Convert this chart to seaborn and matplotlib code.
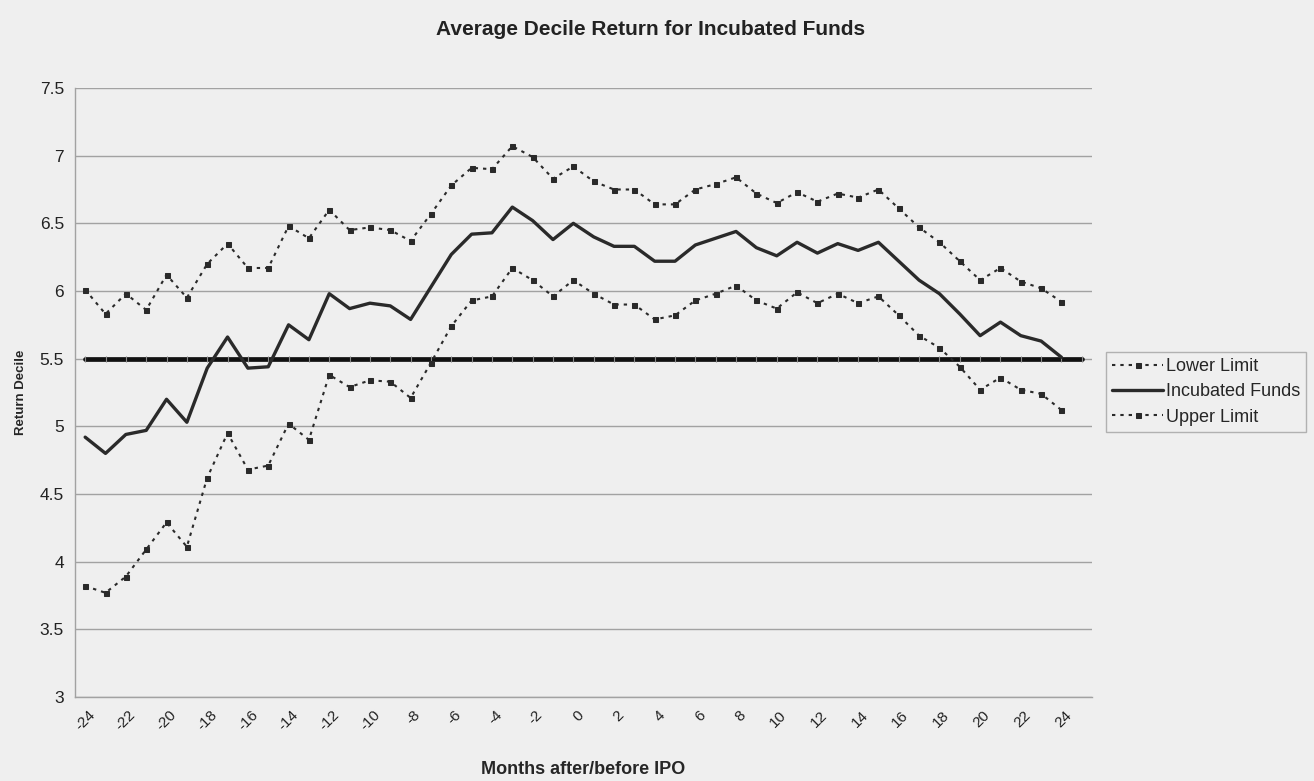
import numpy as np
import pandas as pd
import matplotlib
matplotlib.use("Agg")
import matplotlib.pyplot as plt
import seaborn as sns
from matplotlib.transforms import ScaledTranslation

# Months relative to the IPO date
months = list(range(-24, 25))
# Benchmark (median decile) spans one extra category on the right
bench_months = list(range(-24, 26))
bench_value = [5.5] * len(bench_months)

# Average return decile of incubated funds and its confidence bounds
incubated = [4.92, 4.80, 4.94, 4.97, 5.20, 5.03, 5.43, 5.66, 5.43, 5.44,
             5.75, 5.64, 5.98, 5.87, 5.91, 5.89, 5.79, 6.03, 6.27, 6.42,
             6.43, 6.62, 6.52, 6.38, 6.50, 6.40, 6.33, 6.33, 6.22, 6.22,
             6.34, 6.39, 6.44, 6.32, 6.26, 6.36, 6.28, 6.35, 6.30, 6.36,
             6.22, 6.08, 5.98, 5.83, 5.67, 5.77, 5.67, 5.63, 5.51]
upper = [6.01, 5.83, 5.98, 5.86, 6.12, 5.95, 6.20, 6.35, 6.17, 6.17,
         6.48, 6.39, 6.60, 6.45, 6.47, 6.45, 6.37, 6.57, 6.78, 6.91,
         6.90, 7.07, 6.99, 6.83, 6.92, 6.81, 6.75, 6.75, 6.64, 6.64,
         6.75, 6.79, 6.84, 6.72, 6.65, 6.73, 6.66, 6.72, 6.69, 6.75,
         6.61, 6.47, 6.36, 6.22, 6.08, 6.17, 6.07, 6.02, 5.92]
lower = [3.82, 3.77, 3.89, 4.09, 4.29, 4.11, 4.62, 4.95, 4.68, 4.71,
         5.02, 4.90, 5.38, 5.29, 5.34, 5.33, 5.21, 5.47, 5.74, 5.93,
         5.96, 6.17, 6.08, 5.96, 6.08, 5.98, 5.90, 5.90, 5.79, 5.82,
         5.93, 5.98, 6.04, 5.93, 5.87, 5.99, 5.91, 5.98, 5.91, 5.96,
         5.82, 5.67, 5.58, 5.44, 5.27, 5.36, 5.27, 5.24, 5.12]

y_ticks = [3, 3.5, 4, 4.5, 5, 5.5, 6, 6.5, 7, 7.5]
x_label_months = list(range(-24, 25, 2))

BG = "#efefef"
INK = "#2a2a2a"
GRID = "#a2a2a2"

sns.set_theme(style="white")
plt.rcParams["font.family"] = ["Liberation Sans", "DejaVu Sans"]

fig = plt.figure(figsize=(13.14, 7.81), dpi=100, facecolor=BG)
ax = fig.add_axes([75 / 1314, 1 - 697 / 781, (1092 - 75) / 1314, (697 - 88) / 781])
ax.set_facecolor(BG)

df = pd.DataFrame({"month": months, "Lower Limit": lower,
                   "Incubated Funds": incubated, "Upper Limit": upper})
bench = pd.DataFrame({"month": bench_months, "value": bench_value})

# Median decile reference line
sns.lineplot(data=bench, x="month", y="value", ax=ax, color="#111111",
             linewidth=3.4, marker="|", markersize=5, markeredgecolor="#8a8a8a",
             markeredgewidth=0.8, legend=False, zorder=3)

dotted = (0, (1.6, 2.4))
h_low = sns.lineplot(data=df, x="month", y="Lower Limit", ax=ax, color=INK,
                     linewidth=1.5, linestyle=dotted, marker="s", markersize=3.6,
                     markeredgecolor=INK, zorder=4).lines[-1]
h_mid = sns.lineplot(data=df, x="month", y="Incubated Funds", ax=ax, color=INK,
                     linewidth=2.4, zorder=5).lines[-1]
h_up = sns.lineplot(data=df, x="month", y="Upper Limit", ax=ax, color=INK,
                    linewidth=1.5, linestyle=dotted, marker="s", markersize=3.6,
                    markeredgecolor=INK, zorder=4).lines[-1]

ax.set_xlim(-24.5, 25.5)
ax.set_ylim(3, 7.5)
ax.set_yticks(y_ticks)
ax.set_yticklabels([f"{v:g}" for v in y_ticks], fontsize=12.5, color="#222222")
ax.yaxis.grid(True, color=GRID, linewidth=1.0)
ax.xaxis.grid(False)
ax.set_axisbelow(True)

ax.set_xticks(x_label_months)
ax.set_xticklabels([str(m) for m in x_label_months], fontsize=11, color="#222222",
                   rotation=45, ha="right", va="top", rotation_mode="anchor")
ax.set_xticks(np.arange(-24.5, 26.0, 1.0), minor=True)
ax.tick_params(axis="x", which="major", length=0, pad=8)
ax.tick_params(axis="x", which="minor", length=4, width=1, color=GRID, direction="out")
ax.tick_params(axis="y", which="major", length=5, width=1, color=GRID, direction="out", pad=3)
for lbl in ax.get_xticklabels():
    lbl.set_transform(lbl.get_transform() + ScaledTranslation(2 / 72, 0, fig.dpi_scale_trans))

for side in ("top", "right"):
    ax.spines[side].set_visible(False)
for side in ("left", "bottom"):
    ax.spines[side].set_color(GRID)
    ax.spines[side].set_linewidth(1.0)

ax.set_xlabel("Months after/before IPO", fontsize=13, fontweight="bold", labelpad=20)
ax.set_ylabel("Return Decile", fontsize=9.5, fontweight="bold", labelpad=9)
fig.text(0.495, 0.962, "Average Decile Return for Incubated Funds", ha="center",
         va="center", fontsize=15, fontweight="bold", color="#222222")

leg = fig.legend([h_low, h_mid, h_up], ["Lower Limit", "Incubated Funds", "Upper Limit"],
                 loc="center left", bbox_to_anchor=(1106 / 1314, 1 - 392 / 781),
                 frameon=True, fancybox=False, fontsize=13, handlelength=2.8,
                 handletextpad=0.15, borderpad=0.35, labelspacing=0.45,
                 borderaxespad=0)
leg.get_frame().set_facecolor(BG)
leg.get_frame().set_edgecolor(GRID)
leg.get_frame().set_linewidth(1.0)

fig.savefig("out.png", dpi=100, facecolor=BG)
